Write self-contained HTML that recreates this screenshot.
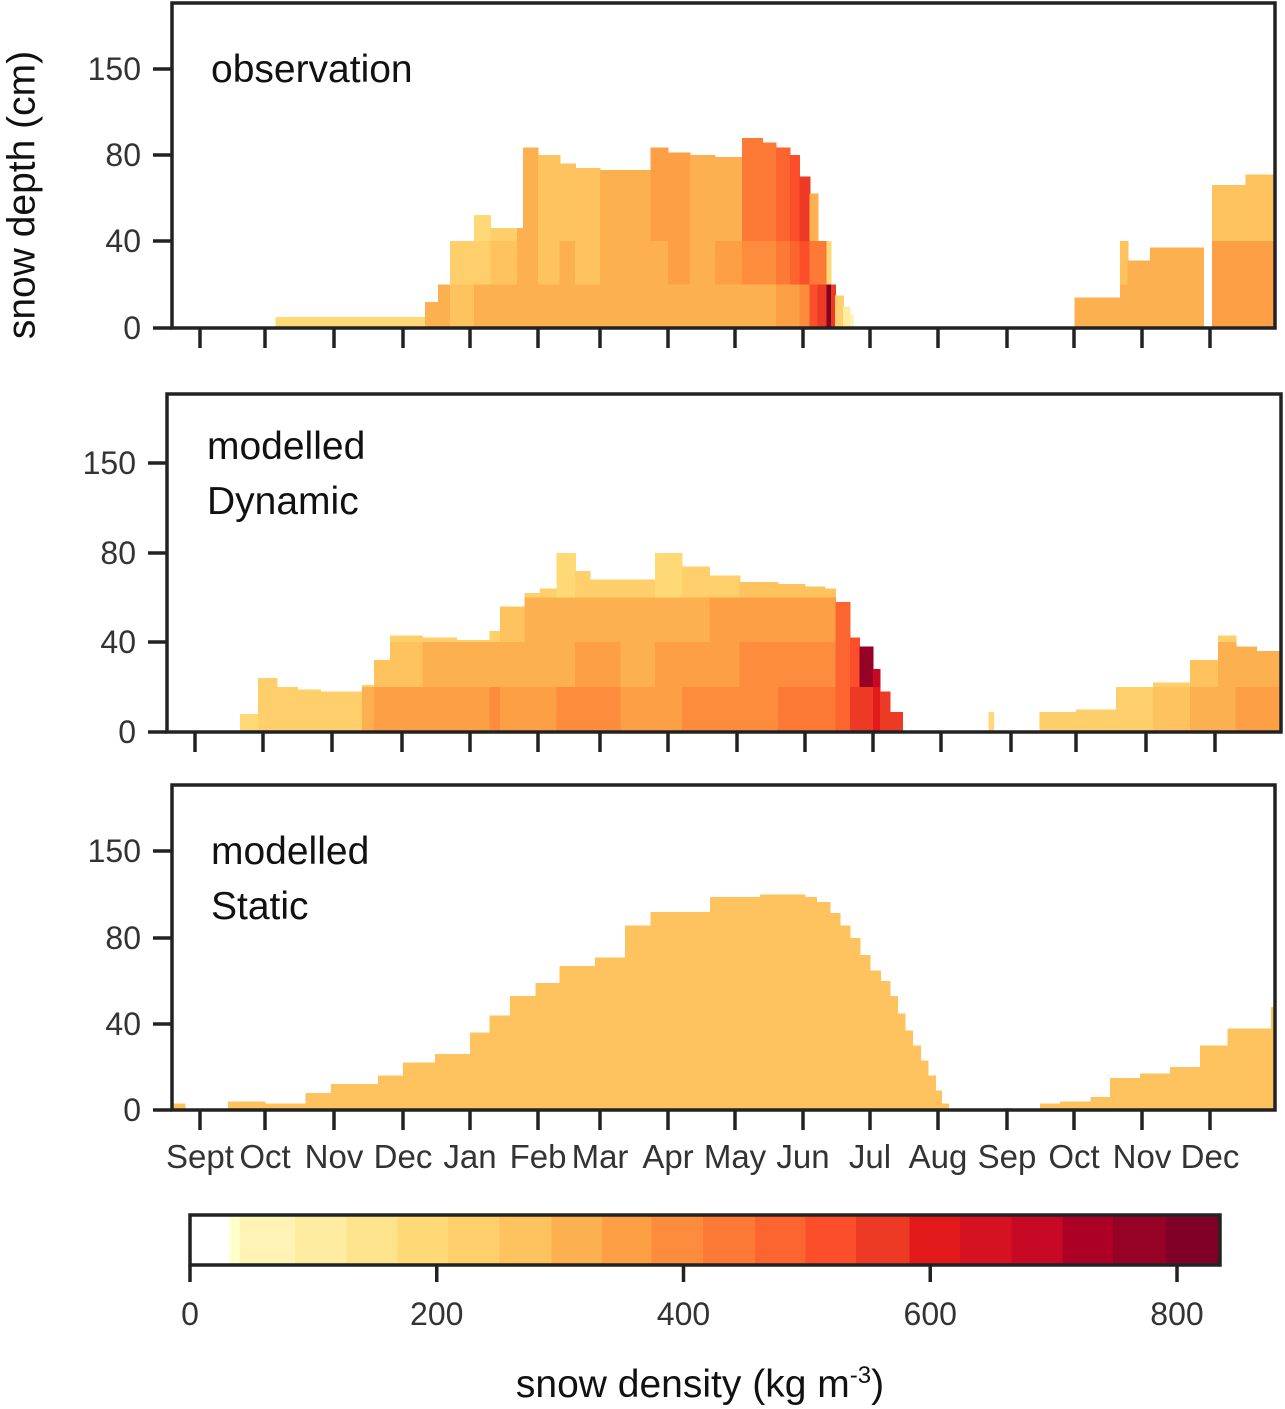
<!DOCTYPE html>
<html><head><meta charset="utf-8"><style>
html,body{margin:0;padding:0;background:#fff;}
svg{display:block;font-family:"Liberation Sans",sans-serif;}
.tk{font-size:32px;fill:#333;}
.mo{font-size:33px;fill:#333;}
.pl{font-size:39px;fill:#111;}
</style></head><body>
<svg id="chart" width="1285" height="1409" viewBox="0 0 1285 1409" xmlns="http://www.w3.org/2000/svg">
<g id="panels"></g>
<text x="22" y="195" class="pl" transform="rotate(-90 22 195)" text-anchor="middle" dominant-baseline="central">snow depth (cm)</text>
<g id="cbar"></g>
<text x="700" y="1397" class="pl" text-anchor="middle">snow density (kg m<tspan dy="-14" font-size="24">-3</tspan><tspan dy="14">)</tspan></text>
</svg>
<script>
// ---- data ----
const monthLabels = ["Sept","Oct","Nov","Dec","Jan","Feb","Mar","Apr","May","Jun","Jul","Aug","Sep","Oct","Nov","Dec"];
const depthTicks = [0,40,80,150];
const cbTicks = [0,200,400,600,800];
const cbEdges = [0,32,40,85,127,168,209,251,293,334,374,416,458,499,540,583,624,666,707,748,791,834];
const cbColors = ["#ffffff","#ffffcc","#fff4b6","#feeca0","#fee38d","#fed976","#fecf6a","#fec35e","#fdb04f","#fd9f44","#fd8d3c","#fc7a35","#fc652f","#fc4e2a","#ed3a25","#e31a1c","#d51221","#c70926","#ac0026","#960126","#800026"];

// observation
const obsLayers = [0,20,40];
const obsT = [1.15,3.33,3.52,3.7,4.06,4.3,4.69,4.78,5.0,5.35,5.6,6.0,6.3,6.74,7.0,7.33,7.7,8.1,8.4,8.6,8.81,8.95,9.1,9.22,9.35,9.42,9.48,9.6,9.7,9.75, 13.01,13.68,13.79,14.12,14.9,15.03,15.52,15.95];
const obsDepth = [5,12,20,40,52,46,46,86,80,76,74,73,73,86,82,80,79,94,90,86,80,70,62,40,40,20,15,10,6,0, 14,40,31,37,0,66,71,0];
const obsD0 = [200,320,330,290,310,320,330,320,320,310,310,310,310,310,310,310,320,330,330,340,360,400,500,560,800,560,250,120,60,0, 300,300,310,330,0,340,340,0];
const obsD1 = [0,0,0,230,240,260,300,310,290,300,280,300,310,330,340,330,340,380,400,420,460,500,450,440,200,0,0,0,0,0, 0,290,300,320,0,340,340,0];
const obsD2 = [0,0,0,0,200,210,300,300,280,270,280,300,300,340,340,320,330,420,440,470,520,560,300,0,0,0,0,0,0,0, 0,0,0,0,0,270,280,0];

// modelled dynamic
const dynLayers = [0,20,40,60];
const dynT = [0.66,0.93,1.2,1.5,1.83,2.43,2.6,2.83,3.3,3.8,4.29,4.44,4.8,5.03,5.3,5.6,5.84,6.3,6.81,7.2,7.6,8.04,8.6,9.0,9.29,9.45,9.66,9.8,10.0,10.1,10.25,10.43, 11.68,11.75,12.44,13.0,13.57,14.1,14.64,15.04,15.3,15.6,15.96];
const dynDepth = [8,24,20,19,18,21,32,43,42,41,45,56,62,64,80,72,68,68,80,74,70,67,66,65,64,58,42,38,28,18,9,0, 9,0,9,10,20,22,32,43,38,36,0];
const dynD0 = [190,240,240,250,250,310,340,350,360,360,380,370,370,360,380,390,380,360,370,380,390,410,430,430,450,480,560,580,600,580,560,0, 200,0,230,240,250,260,330,330,340,340,0];
const dynD1 = [0,230,220,0,0,230,260,290,300,310,330,330,330,320,330,340,350,330,340,350,370,380,390,400,410,470,520,780,700,0,0,0, 0,0,0,0,0,230,280,300,310,320,0];
const dynD2 = [0,0,0,0,0,0,0,220,230,240,250,280,300,300,310,320,320,310,320,330,340,350,360,360,370,480,520,0,0,0,0,0, 0,0,0,0,0,0,0,240,230,230,0];
const dynD3 = [0,0,0,0,0,0,0,0,0,0,0,0,230,240,200,230,240,230,200,220,240,260,270,280,280,0,0,0,0,0,0,0, 0,0,0,0,0,0,0,0,0,0,0];

// modelled static
const stLayers = [0];
const stT = [-0.43,-0.23,0.43,1,1.59,1.96,2.64,3,3.48,4,4.29,4.59,4.96,5.35,5.92,6.37,6.74,7.63,8.37,9.03,9.2,9.4,9.55,9.7,9.85,10.0,10.15,10.29,10.4,10.51,10.62,10.74,10.85,10.96,11.05,11.15,11.95,12.05,12.49,12.79,13.24,13.53,13.97,14.41,14.85,15.26,15.9,15.96];
const stDepth = [3,0,4,3,8,12,16,22,26,36,44,53,59,67,71,90,101,113,115,113,109,100,90,80,72,65,60,53,45,37,30,23,16,9,3,0,1,0,3,4,6,15,17,20,30,38,48,0];
const stD0 = [290,0,290,290,290,290,290,290,290,290,290,290,290,290,290,290,290,290,290,290,290,290,290,290,290,290,290,290,290,290,290,290,290,290,290,0,290,0,290,290,290,290,290,290,290,290,290,0];

// ---- rendering ----
const NS="http://www.w3.org/2000/svg";
function mk(tag,attrs,parent){const e=document.createElementNS(NS,tag);for(const k in attrs)e.setAttribute(k,attrs[k]);parent.appendChild(e);return e;}
function colorOf(d){if(d<=0)return null;for(let i=0;i<cbEdges.length-1;i++){if(d<cbEdges[i+1])return cbColors[i];}return cbColors[cbColors.length-1];}

const panels=[
 {name:"observation",lines:["observation"],box:[172,3,1275,328],yt:[328,241,155,69],mt:[200,265,334,403,470,538,600,668,735,803,870,938,1007,1074,1142,1210],t:obsT,depth:obsDepth,layers:obsLayers,dens:[obsD0,obsD1,obsD2],lx:211,ly:82},
 {name:"dynamic",lines:["modelled","Dynamic"],box:[167,394,1281,732],yt:[732,642,553,463],mt:[195,263,332,402,470,538,600,668,737,805,873,941,1011,1076,1146,1215],t:dynT,depth:dynDepth,layers:dynLayers,dens:[dynD0,dynD1,dynD2,dynD3],lx:207,ly:459},
 {name:"static",lines:["modelled","Static"],box:[172,785,1275,1110],yt:[1110,1024,938,851],mt:[200,265,334,403,470,538,600,668,735,803,870,938,1007,1074,1142,1210],t:stT,depth:stDepth,layers:stLayers,dens:[stD0],lx:211,ly:864}
];
const root=document.getElementById("panels");
panels.forEach((p,pi)=>{
 const g=mk("g",{},root);
 
 
 const xs=t=>{const m=p.mt;let i=Math.floor(t);if(i<0)i=0;if(i>m.length-2)i=m.length-2;return m[i]+(t-i)*(m[i+1]-m[i]);};
 const ys=v=>{const tk=depthTicks,y=p.yt;let i=0;while(i<tk.length-2&&v>tk[i+1])i++;return y[i]+(v-tk[i])/(tk[i+1]-tk[i])*(y[i+1]-y[i]);};
 const [x0,y0,x1,y1]=p.box;
 const clipId="clip"+pi;
 const cp=mk("clipPath",{id:clipId},g);mk("rect",{x:x0,y:y0,width:x1-x0,height:y1-y0},cp);
 const marks=mk("g",{"clip-path":"url(#"+clipId+")","shape-rendering":"crispEdges"},g);
 
 
 for(let i=0;i<p.t.length-1;i++){
  const d=p.depth[i];if(d<=0)continue;
  const xa=xs(p.t[i]),xb=xs(p.t[i+1]);
  for(let L=0;L<p.layers.length;L++){
   const lo=p.layers[L];if(d<=lo)continue;
   const hi=(L<p.layers.length-1)?Math.min(d,p.layers[L+1]):d;
   const c=colorOf(p.dens[L][i]);if(!c)continue;
   const ya=ys(hi),yb=ys(lo);
   const r=mk("rect",{x:xa,y:ya,width:Math.max(0.5,xb-xa+0.6),height:yb-ya,fill:c},marks);
   
   
  }
 }
 const frame=mk("rect",{x:x0,y:y0,width:x1-x0,height:y1-y0,fill:"none",stroke:"#222","stroke-width":3.5},g);
 
 
 depthTicks.forEach(v=>{
  const y=ys(v);
  const l=mk("line",{x1:x0-19,x2:x0,y1:y,y2:y,stroke:"#222","stroke-width":3.5},g);
  
  
  const t=mk("text",{x:x0-31,y:y+11,"text-anchor":"end",class:"tk"},g);t.textContent=v;
  
  
 });
 p.mt.forEach((x,i)=>{
  const l=mk("line",{x1:x,x2:x,y1:y1,y2:y1+20,stroke:"#222","stroke-width":3.5},g);
  
  
  if(pi===2){
   const t=mk("text",{x:x,y:1168,"text-anchor":"middle",class:"mo"},g);t.textContent=monthLabels[i];
   
   
  }
 });
 p.lines.forEach((s,k)=>{
  const t=mk("text",{x:p.lx,y:p.ly+k*55,class:"pl"},g);t.textContent=s;
  
  
 });
});
// colorbar
const cb=document.getElementById("cbar");
const cx=v=>190+v*(1177-190)/800;
for(let i=0;i<cbColors.length;i++){
 const a=cx(cbEdges[i]),b=cx(cbEdges[i+1]);
 const r=mk("rect",{x:a,y:1215,width:b-a+0.6,height:50,fill:cbColors[i],"shape-rendering":"crispEdges"},cb);
 
 
}
const cf=mk("rect",{x:190,y:1215,width:1030,height:50,fill:"none",stroke:"#222","stroke-width":3.5},cb);


cbTicks.forEach(v=>{
 const x=cx(v);
 const l=mk("line",{x1:x,x2:x,y1:1265,y2:1282,stroke:"#222","stroke-width":3.5},cb);
 
 
 const t=mk("text",{x:x,y:1325,"text-anchor":"middle",class:"tk"},cb);t.textContent=v;
 
 
});
</script>
</body></html>
